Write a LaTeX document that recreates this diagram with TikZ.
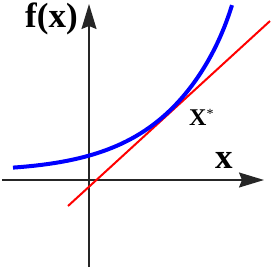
\documentclass[tikz,border=0pt]{standalone}
\usepackage{fontspec}
\setmainfont{Liberation Serif}
\usetikzlibrary{arrows.meta}
\tikzset{
  axis/.style={line width=1.5pt, black!85, -{Stealth[length=25pt,width=15pt,inset=3pt]}},
  curve/.style={line width=4pt, blue},
  tangent/.style={line width=2pt, red},
  biglabel/.style={inner sep=0pt, anchor=base west, font=\fontsize{35}{40}\selectfont\bfseries},
  starlabel/.style={inner sep=0pt, anchor=base west, font=\fontsize{24}{28}\selectfont\bfseries}
}
\begin{document}
\begin{tikzpicture}[x=1pt,y=-1pt]
\useasboundingbox (0,0) rectangle (273,269);
\coordinate (xs) at (2,180);
\coordinate (xe) at (264,180);
\coordinate (ys) at (89,267);
\coordinate (ye) at (89,4);
\coordinate (r1) at (68,206);
\coordinate (r2) at (270,21);
\draw[axis] (xs) -- (xe);
\draw[axis] (ys) -- (ye);
\draw[tangent] (r1) -- (r2);
\draw[curve] plot[domain=13:232, samples=90, smooth] (\x, {180 - (5 - 0.04*\x + 6.6*exp(0.014*\x) + 9*exp(0.1*(\x-232)))});
\node[biglabel] (fx) at (25,27) {f(x)};
\node[biglabel] (xl) at (215,168) {x};
\node[starlabel] (xstar) at (189,125) {X\raisebox{7pt}{\fontsize{14}{14}\selectfont\mdseries *}};
\end{tikzpicture}
\end{document}
